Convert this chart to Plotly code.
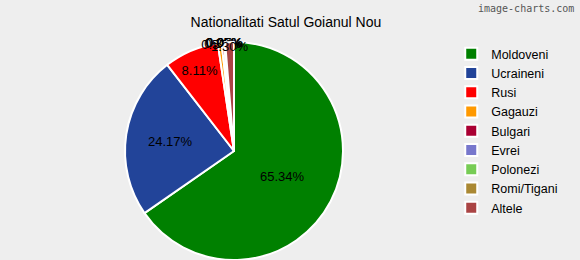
import plotly.graph_objects as go

labels = ["Moldoveni", "Ucraineni", "Rusi", "Gagauzi", "Bulgari", "Evrei", "Polonezi", "Romi/Tigani", "Altele"]
values = [65.34, 24.17, 8.11, 0.55, 0.36, 0.05, 0.05, 0.07, 1.30]
colors = ["#008000", "#224499", "#FF0000", "#FF9900", "#AA0033", "#7777CC", "#77CC55", "#AA8833", "#AA4444"]

fig = go.Figure(go.Pie(
    labels=labels, values=values, sort=False, direction="clockwise", rotation=0,
    marker=dict(colors=colors, line=dict(color="white", width=2)),
    texttemplate="%{percent:.2%}", textposition="inside",
    insidetextorientation="horizontal",
    textfont=dict(family="Liberation Sans, Arial", size=13, color="black"),
    domain=dict(x=[125/580, 343/580], y=[0/260, 218/260]),
    hoverinfo="label+percent",
))
fig.update_layout(
    width=580, height=260,
    margin=dict(l=0, r=0, t=0, b=0),
    paper_bgcolor="#EEEEEE", plot_bgcolor="#EEEEEE",
    font=dict(family="Liberation Sans, Arial", size=13, color="black"),
    title=dict(text="Nationalitati Satul Goianul Nou", x=0.493, xanchor="center", y=0.915, yanchor="middle",
               font=dict(size=14, color="black")),
    uniformtext=dict(minsize=13, mode="show"),
    legend=dict(x=0.778, y=0.85, xanchor="left", yanchor="top", font=dict(size=12.5),
                tracegroupgap=0, itemwidth=30, bgcolor="rgba(0,0,0,0)"),
    annotations=[dict(text="image-charts.com", x=1, y=1, xref="paper", yref="paper", xanchor="right", yanchor="top",
                      showarrow=False, font=dict(family="DejaVu Sans Mono", size=10, color="#555555"), xshift=-4, yshift=-1)],
)
fig.write_html("out.html")
